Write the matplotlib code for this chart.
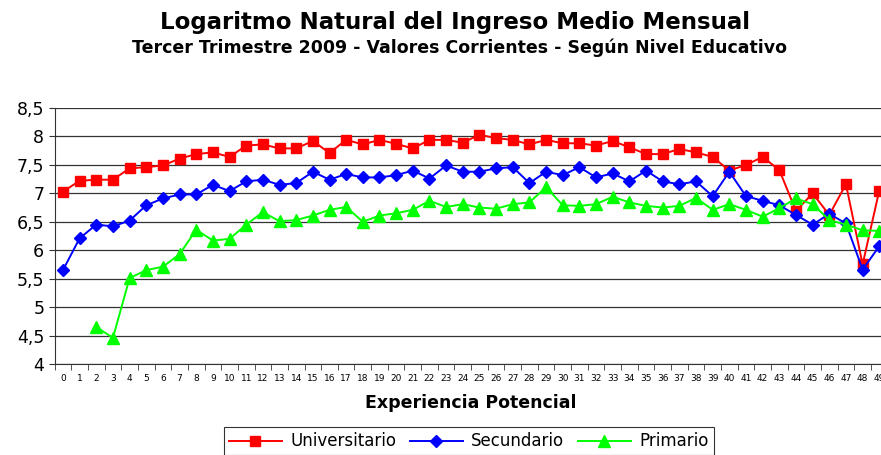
import matplotlib.pyplot as plt
from matplotlib.ticker import FixedLocator, FuncFormatter

plt.rcParams['font.family'] = ['DejaVu Sans']

experiencia = list(range(50))

universitario = [7.03, 7.22, 7.24, 7.24, 7.44, 7.46, 7.49, 7.61, 7.69, 7.72,
                 7.64, 7.84, 7.86, 7.79, 7.79, 7.92, 7.71, 7.94, 7.86, 7.94,
                 7.87, 7.79, 7.94, 7.94, 7.89, 8.03, 7.97, 7.94, 7.86, 7.94,
                 7.88, 7.88, 7.84, 7.92, 7.81, 7.69, 7.69, 7.78, 7.72, 7.64,
                 7.40, 7.50, 7.64, 7.41, 6.69, 7.00, 6.62, 7.16, 5.75, 7.05]

secundario = [5.65, 6.21, 6.45, 6.42, 6.52, 6.79, 6.91, 6.98, 6.98, 7.15,
              7.04, 7.21, 7.24, 7.15, 7.18, 7.38, 7.24, 7.34, 7.28, 7.28,
              7.32, 7.40, 7.26, 7.49, 7.38, 7.38, 7.44, 7.46, 7.18, 7.38,
              7.32, 7.46, 7.28, 7.35, 7.21, 7.40, 7.21, 7.16, 7.21, 6.95,
              7.38, 6.95, 6.87, 6.79, 6.62, 6.45, 6.64, 6.47, 5.66, 6.07]

primario = [None, None, 4.65, 4.46, 5.51, 5.65, 5.71, 5.93, 6.36, 6.17,
            6.20, 6.45, 6.67, 6.51, 6.53, 6.61, 6.71, 6.76, 6.50, 6.61,
            6.65, 6.71, 6.87, 6.76, 6.81, 6.75, 6.73, 6.81, 6.84, 7.11,
            6.79, 6.78, 6.81, 6.94, 6.84, 6.78, 6.75, 6.78, 6.92, 6.71,
            6.81, 6.71, 6.59, 6.74, 6.91, 6.81, 6.53, 6.45, 6.35, 6.34]

y_ticks = [4, 4.5, 5, 5.5, 6, 6.5, 7, 7.5, 8, 8.5]

fig = plt.figure(figsize=(8.81, 4.55), dpi=100)
ax = fig.add_axes([0.062, 0.2, 0.9455, 0.5626])

prim_x = [x for x, v in zip(experiencia, primario) if v is not None]
prim_y = [v for v in primario if v is not None]

ax.plot(experiencia, universitario, '-s', color='#ff0000', mfc='#ff0000', mec='#ff0000',
        lw=1.4, ms=7, label='Universitario', zorder=3)
ax.plot(experiencia, secundario, '-D', color='#0000ff', mfc='#0000ff', mec='#0000ff',
        lw=1.4, ms=6, label='Secundario', zorder=4)
ax.plot(prim_x, prim_y, '-^', color='#00ff00', mfc='#00ff00', mec='#00ff00',
        lw=1.4, ms=8, label='Primario', zorder=5)

ax.set_xlim(-0.5, 49.5)
ax.set_ylim(4, 8.5)
ax.set_yticks(y_ticks)
ax.yaxis.set_major_formatter(FuncFormatter(lambda v, p: ('%g' % v).replace('.', ',')))
ax.grid(axis='y', color='#333333', lw=0.9)
ax.set_axisbelow(True)

ax.set_xticks(experiencia)
ax.set_xticklabels([str(x) for x in experiencia], fontsize=6.5)
ax.xaxis.set_minor_locator(FixedLocator([x - 0.5 for x in experiencia] + [49.5]))
ax.tick_params(axis='x', which='major', length=0, pad=7)
ax.tick_params(axis='x', which='minor', length=4, direction='out', color='#333333')
ax.tick_params(axis='y', length=4, direction='out', labelsize=12.5, color='#333333')

for s in ['top', 'right']:
    ax.spines[s].set_visible(False)
ax.spines['left'].set_color('#333333')
ax.spines['bottom'].set_color('#333333')

ax.set_xlabel('Experiencia Potencial', fontsize=12.5, fontweight='bold', labelpad=8)

fig.text(0.516, 0.95, 'Logaritmo Natural del Ingreso Medio Mensual',
         ha='center', va='center', fontsize=16.5, fontweight='bold')
fig.text(0.522, 0.895, 'Tercer Trimestre 2009 - Valores Corrientes - Según Nivel Educativo',
         ha='center', va='center', fontsize=12.5, fontweight='bold')

leg = fig.legend(loc='center', bbox_to_anchor=(0.532, 0.03), ncol=3, fontsize=12,
                 frameon=True, fancybox=False, edgecolor='black', handlelength=3.2,
                 columnspacing=0.8, handletextpad=0.5, borderpad=0.3)
leg.get_frame().set_linewidth(0.8)

fig.savefig('out.png', dpi=100)
